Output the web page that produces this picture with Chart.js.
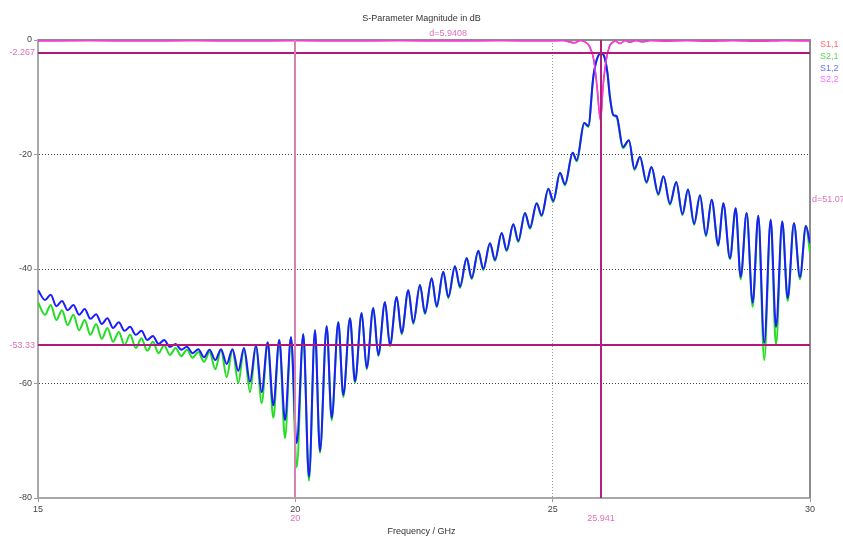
<!DOCTYPE html>
<html>
<head>
<meta charset="utf-8">
<script src="https://cdn.jsdelivr.net/npm/chart.js@4.4.1/dist/chart.umd.min.js"></script>
<style>
  html, body { margin: 0; padding: 0; background: #fff; }
  #wrap { width: 843px; height: 538px; position: relative; }
</style>
</head>
<body>
<div id="wrap"><canvas id="sparam"></canvas></div>
<script>
// frequency grid (GHz) for the transmission curves, one point per ripple peak / null
const freqs = [
  15.0, 15.136, 15.247, 15.357, 15.466, 15.577, 15.688, 15.799, 15.907, 16.018,
  16.129, 16.240, 16.348, 16.459, 16.570, 16.681, 16.789, 16.900, 17.011, 17.122,
  17.232, 17.343, 17.452, 17.563, 17.673, 17.784, 17.893, 18.004, 18.115, 18.225,
  18.334, 18.445, 18.556, 18.666, 18.779, 18.892, 19.002, 19.119, 19.236, 19.346,
  19.463, 19.572, 19.688, 19.799, 19.916, 20.026, 20.155, 20.265, 20.382, 20.479,
  20.609, 20.706, 20.835, 20.932, 21.062, 21.159, 21.289, 21.386, 21.515, 21.612,
  21.742, 21.839, 21.969, 22.066, 22.195, 22.292, 22.422, 22.519, 22.649, 22.746,
  22.875, 22.972, 23.102, 23.199, 23.329, 23.426, 23.555, 23.652, 23.782, 23.879,
  24.009, 24.106, 24.235, 24.332, 24.462, 24.559, 24.689, 24.786, 24.915, 25.012,
  25.142, 25.239, 25.389, 25.466, 25.614, 25.692, 25.789, 25.855, 25.941, 26.007,
  26.065, 26.113, 26.177, 26.243, 26.366, 26.482, 26.589, 26.696, 26.823, 26.920,
  27.052, 27.153, 27.279, 27.401, 27.522, 27.629, 27.749, 27.862, 27.979, 28.089,
  28.218, 28.315, 28.445, 28.556, 28.653, 28.769, 28.886, 28.995, 29.111, 29.236,
  29.339, 29.461, 29.566, 29.688, 29.805, 29.921, 30.0
];

// S2,1 (green) in dB
const s21 = [
  -45.8, -48.0, -46.3, -48.9, -47.2, -49.8, -48.0, -50.7, -48.9, -51.5,
  -49.6, -52.2, -50.3, -52.7, -51.0, -53.3, -51.5, -53.8, -52.1, -54.3,
  -52.7, -54.7, -53.3, -55.0, -53.8, -55.2, -54.1, -55.5, -54.5, -56.2,
  -54.5, -57.5, -54.1, -58.9, -54.1, -59.9, -54.0, -61.5, -53.5, -63.4,
  -52.9, -66.0, -52.4, -69.5, -51.9, -74.6, -51.4, -77.0, -50.7, -72.1,
  -50.0, -66.4, -49.3, -62.4, -48.6, -59.9, -47.7, -57.5, -46.8, -55.2,
  -45.8, -53.5, -44.9, -51.4, -43.7, -49.6, -42.8, -47.9, -41.6, -46.7,
  -40.5, -45.1, -39.5, -43.3, -38.1, -41.8, -36.8, -40.2, -35.5, -38.6,
  -33.7, -36.9, -32.2, -35.3, -30.2, -33.0, -28.5, -30.8, -26.0, -28.3,
  -23.2, -25.4, -19.7, -21.2, -14.5, -15.2, -6.5, -3.5, -2.27, -3.0,
  -5.8, -10.0, -13.1, -13.5, -18.9, -17.5, -22.7, -20.4, -25.0, -22.2,
  -27.1, -23.8, -28.8, -24.8, -30.6, -26.1, -32.3, -27.1, -34.3, -27.9,
  -36.0, -28.5, -38.3, -29.4, -41.8, -30.2, -46.6, -30.7, -55.9, -31.4,
  -53.3, -31.7, -45.6, -32.0, -41.8, -32.5, -37.2
];

// S1,2 (blue) in dB
const s12 = [
  -43.7, -45.4, -44.5, -46.5, -45.6, -47.2, -46.3, -48.0, -47.0, -48.7,
  -47.9, -49.6, -48.6, -50.3, -49.3, -50.8, -50.1, -51.5, -50.8, -52.4,
  -51.7, -53.1, -52.4, -53.6, -53.1, -54.1, -53.6, -54.7, -54.0, -55.4,
  -54.1, -55.9, -54.0, -56.6, -54.0, -57.8, -53.8, -59.7, -53.3, -61.5,
  -52.8, -63.8, -52.4, -66.4, -51.9, -70.4, -51.4, -76.3, -50.7, -71.8,
  -50.0, -66.0, -49.3, -62.0, -48.6, -59.6, -47.7, -57.3, -46.8, -55.0,
  -45.8, -53.3, -44.9, -51.2, -43.7, -49.4, -42.8, -47.7, -41.6, -46.5,
  -40.5, -44.9, -39.5, -43.1, -38.1, -41.6, -36.8, -40.0, -35.5, -38.4,
  -33.7, -36.7, -32.2, -35.1, -30.2, -32.8, -28.5, -30.6, -26.0, -28.1,
  -23.2, -25.2, -19.7, -21.0, -14.5, -15.0, -6.5, -3.5, -2.27, -3.0,
  -5.8, -10.0, -13.1, -13.3, -18.7, -17.5, -22.5, -20.4, -24.8, -22.2,
  -26.9, -23.8, -28.6, -24.8, -30.4, -26.1, -32.1, -27.1, -34.1, -27.9,
  -35.8, -28.5, -38.1, -29.4, -41.4, -30.2, -45.9, -30.7, -52.9, -31.4,
  -50.1, -31.7, -45.1, -32.0, -41.4, -32.5, -35.5
];

// reflection curves, sampled more coarsely (they sit at ~0 dB outside the passband)
const reflFreqs = [
  15, 16, 17, 18, 19, 20, 21, 22, 23, 24,
  24.8, 25.2, 25.43, 25.53, 25.62, 25.72, 25.80, 25.86, 25.93, 25.98,
  26.04, 26.10, 26.15, 26.22, 26.31, 26.41, 26.50, 26.62, 26.73, 26.9,
  27.2, 27.6, 28.0, 28.5, 29.0, 29.5, 30
];
const s11 = [
  -0.15, -0.1, -0.15, -0.1, -0.15, -0.1, -0.15, -0.1, -0.15, -0.1,
  -0.15, -0.1, -0.5, -0.1, -0.3, -1.2, -3.5, -8.0, -14.0, -8.0,
  -3.5, -1.2, -0.5, -0.2, -0.6, -0.1, -0.4, -0.1, -0.3, -0.1,
  -0.2, -0.1, -0.2, -0.1, -0.2, -0.1, -0.15
];
const s22 = [
  -0.15, -0.1, -0.15, -0.1, -0.15, -0.1, -0.15, -0.1, -0.15, -0.1,
  -0.15, -0.1, -0.5, -0.1, -0.3, -1.2, -3.5, -8.0, -14.0, -8.0,
  -3.5, -1.2, -0.5, -0.2, -0.6, -0.1, -0.4, -0.1, -0.3, -0.1,
  -0.2, -0.1, -0.2, -0.1, -0.2, -0.1, -0.15
];

const xTicks = [15, 20, 25, 30];
const yTicks = [0, -20, -40, -60, -80];

const markerFreqs = [20, 25.941];
const markerFreqLabels = ['20', '25.941'];
const markerLevels = [-2.267, -53.33];
const markerLevelLabels = ['-2.267', '-53.33'];
const deltaLabels = ['d=5.9408', 'd=51.07'];

const seriesNames = ['S1,1', 'S2,1', 'S1,2', 'S2,2'];
const seriesColors = ['#ff2a2a', '#22dd22', '#1c1cff', '#f03cf0'];
const legendColors = ['#ff6a6a', '#5fd35f', '#6a6aff', '#ff6cff'];

const FONT = '"Liberation Sans", Arial, sans-serif';
const toPoints = (xs, ys) => xs.map((x, i) => ({ x, y: ys[i] }));

const markerPlugin = {
  id: 'markers',
  beforeDatasetsDraw(chart) {
    const { ctx, chartArea: a } = chart;
    ctx.save();
    ctx.strokeStyle = '#8c8c8c';
    ctx.lineWidth = 2;
    ctx.beginPath();
    ctx.moveTo(a.left, a.top);
    ctx.lineTo(a.right, a.top);
    ctx.lineTo(a.right, a.bottom);
    ctx.stroke();
    ctx.restore();
  },
  afterDatasetsDraw(chart) {
    const { ctx, chartArea: a, scales: { x, y } } = chart;
    ctx.save();
    ctx.lineWidth = 2;
    ctx.strokeStyle = '#b0187a';
    markerLevels.forEach(v => {
      const py = Math.round(y.getPixelForValue(v));
      ctx.beginPath(); ctx.moveTo(a.left, py); ctx.lineTo(a.right, py); ctx.stroke();
    });
    markerFreqs.forEach((f, i) => {
      const px = Math.round(x.getPixelForValue(f));
      ctx.strokeStyle = i === 0 ? '#d87fb4' : '#b0207c';
      ctx.beginPath(); ctx.moveTo(px, a.top); ctx.lineTo(px, a.bottom); ctx.stroke();
    });

    ctx.fillStyle = '#e070b8';
    ctx.font = '9px ' + FONT;
    ctx.textBaseline = 'middle';
    ctx.textAlign = 'right';
    markerLevels.forEach((v, i) => ctx.fillText(markerLevelLabels[i], a.left - 3, y.getPixelForValue(v)));
    ctx.textAlign = 'center';
    markerFreqs.forEach((f, i) => ctx.fillText(markerFreqLabels[i], x.getPixelForValue(f), a.bottom + 21));

    // deltas between the marker pairs
    const midX = (x.getPixelForValue(markerFreqs[0]) + x.getPixelForValue(markerFreqs[1])) / 2;
    ctx.fillText(deltaLabels[0], midX, a.top - 6);
    const midY = (y.getPixelForValue(markerLevels[0]) + y.getPixelForValue(markerLevels[1])) / 2;
    ctx.textAlign = 'left';
    ctx.fillText(deltaLabels[1], a.right + 2, midY);
    ctx.restore();
  },
  afterDraw(chart) {
    const { ctx, chartArea: a } = chart;
    ctx.save();
    ctx.font = '9px ' + FONT;
    ctx.textBaseline = 'middle';
    ctx.textAlign = 'center';
    ctx.fillStyle = '#333';
    ctx.fillText('S-Parameter Magnitude in dB', chart.width / 2, 19);
    ctx.fillText('Frequency / GHz', chart.width / 2, a.bottom + 34);
    ctx.textAlign = 'left';
    seriesNames.forEach((n, i) => {
      ctx.fillStyle = legendColors[i];
      ctx.fillText(n, a.right + 10, a.top + 5 + i * 11.6);
    });
    ctx.restore();
  }
};

const chart = new Chart(document.getElementById('sparam'), {
  type: 'line',
  data: {
    datasets: [
      { label: seriesNames[0], data: toPoints(reflFreqs, s11), borderColor: seriesColors[0], borderWidth: 1.5, order: 4 },
      { label: seriesNames[1], data: toPoints(freqs, s21), borderColor: seriesColors[1], order: 3 },
      { label: seriesNames[2], data: toPoints(freqs, s12), borderColor: seriesColors[2], order: 2 },
      { label: seriesNames[3], data: toPoints(reflFreqs, s22), borderColor: seriesColors[3], borderWidth: 1.5, order: 1 }
    ]
  },
  options: {
    responsive: true,
    maintainAspectRatio: false,
    animation: false,
    layout: { padding: { top: 40, right: 33, left: 0, bottom: 0 } },
    elements: {
      point: { radius: 0 },
      line: { borderWidth: 2, cubicInterpolationMode: 'monotone', fill: false }
    },
    plugins: { legend: { display: false }, tooltip: { enabled: false } },
    scales: {
      x: {
        type: 'linear', min: 15, max: 30,
        afterBuildTicks: s => { s.ticks = xTicks.map(v => ({ value: v })); },
        afterFit: s => { s.height = 40; },
        ticks: { font: { family: FONT, size: 9 }, color: '#444', padding: 2, maxRotation: 0 },
        grid: {
          color: c => (c.tick && c.tick.value === 25) ? '#9a9a9a' : 'transparent',
          tickLength: 4, tickColor: '#9a9a9a'
        },
        border: { display: true, color: '#a8a8a8', width: 2, dash: [1, 2] }
      },
      y: {
        min: -80, max: 0,
        afterBuildTicks: s => { s.ticks = yTicks.map(v => ({ value: v })); },
        afterFit: s => { s.width = 38; },
        ticks: { font: { family: FONT, size: 9 }, color: '#444', padding: 2 },
        grid: {
          color: c => (c.tick && c.tick.value < 0 && c.tick.value > -80) ? '#444' : 'transparent',
          tickLength: 4, tickColor: '#9a9a9a'
        },
        border: { display: true, color: '#a8a8a8', width: 2, dash: [1, 2] }
      }
    }
  },
  plugins: [markerPlugin]
});
</script>
</body>
</html>
